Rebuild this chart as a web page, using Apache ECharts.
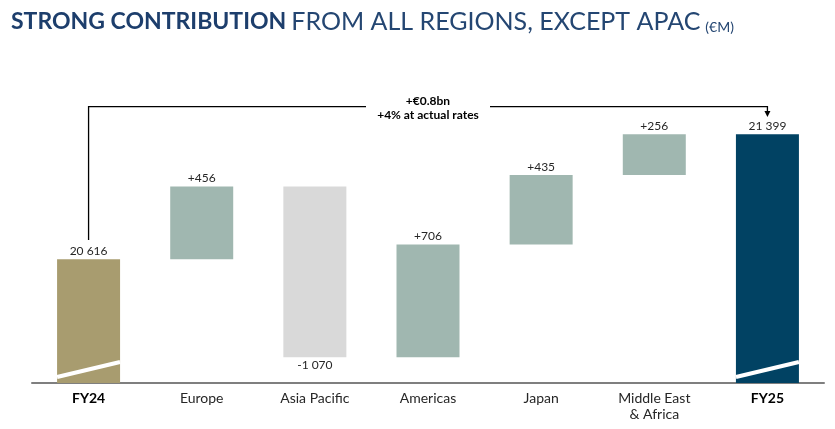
<!DOCTYPE html>
<html>
<head>
<meta charset="utf-8">
<script src="https://cdn.jsdelivr.net/npm/echarts@6/dist/echarts.min.js"></script>
<style>html,body{margin:0;padding:0;background:#fff}#c{width:835px;height:429px}</style>
</head>
<body>
<div id="c"></div>
<script>
const categories = ['FY24', 'Europe', 'Asia Pacific', 'Americas', 'Japan', 'Middle East\n& Africa', 'FY25'];
const startValue = 20616;
const deltas = [456, -1070, 706, 435, 256];
const endValue = 21399;
const valueLabels = ['20 616', '+456', '-1 070', '+706', '+435', '+256', '21 399'];
const bracketText = ['+€0.8bn', '+4% at actual rates'];
const colors = ['#a89c6f', '#a0b7b0', '#d9d9d9', '#a0b7b0', '#a0b7b0', '#a0b7b0', '#014263'];

// build waterfall
const baseVals = [0];
const barVals = [startValue];
let run = startValue;
deltas.forEach(d => {
  const lo = d >= 0 ? run : run + d;
  baseVals.push(lo);
  barVals.push(Math.abs(d));
  run += d;
});
baseVals.push(0);
barVals.push(endValue);

const yMin = 19840, yMax = 21620;
const BW = 63;

const chart = echarts.init(document.getElementById('c'), null, {renderer: 'canvas'});
const FONT = 'Lato, "Noto Sans", sans-serif';

chart.setOption({
  animation: false,
  title: {
    left: 6, top: 4,
    text: '{b|STRONG CONTRIBUTION} {r|FROM ALL REGIONS, EXCEPT APAC} {s|(€M)}',
    textStyle: {
      rich: {
        b: {fontFamily: FONT, fontWeight: 'bold', fontSize: 23, color: '#1d3e6c'},
        r: {fontFamily: FONT, fontWeight: 'normal', fontSize: 25, color: '#244672'},
        s: {fontFamily: FONT, fontWeight: 'normal', fontSize: 14, color: '#244672', verticalAlign: 'bottom'}
      }
    }
  },
  grid: {left: 32, right: 11, top: 99, bottom: 46},
  xAxis: {
    type: 'category',
    data: categories,
    axisLine: {lineStyle: {color: '#7f7f7f', width: 2}},
    axisTick: {show: false},
    axisLabel: {
      margin: 7,
      fontFamily: FONT, fontSize: 14, color: '#262626', lineHeight: 16,
      formatter: v => v.startsWith('FY') ? '{b|' + v + '}' : v,
      rich: {b: {fontFamily: FONT, fontSize: 14, fontWeight: 'bold', color: '#000'}}
    }
  },
  yAxis: {type: 'value', min: yMin, max: yMax, show: false, splitLine: {show: false}},
  series: [
    {
      type: 'bar', stack: 'w', barWidth: BW, silent: true,
      itemStyle: {color: 'transparent'},
      data: baseVals
    },
    {
      type: 'bar', stack: 'w', barWidth: BW,
      data: barVals.map((v, i) => ({
        value: v,
        itemStyle: {color: colors[i]},
        label: {position: deltas[i - 1] < 0 ? 'bottom' : 'top'}
      })),
      label: {
        show: true, distance: 2,
        fontFamily: FONT, fontSize: 12, color: '#262626',
        formatter: p => valueLabels[p.dataIndex]
      }
    },
    {
      // axis break marks on total bars
      type: 'custom', z: 5, silent: true,
      data: [[0], [6]],
      renderItem: (params, api) => {
        const idx = api.value(0);
        const p1 = api.coord([idx, 19878]);
        const p2 = api.coord([idx, 19972]);
        return {
          type: 'line',
          shape: {x1: p1[0] - BW / 2, y1: p1[1], x2: p1[0] + BW / 2, y2: p2[1]},
          style: {stroke: '#ffffff', lineWidth: 4}
        };
      }
    },
    {
      // bracket annotation
      type: 'custom', z: 6, silent: true, clip: false,
      data: [[0, 6]],
      renderItem: (params, api) => {
        const a = api.value(0), b = api.value(1);
        const s = api.coord([a, 20736]);
        const top = api.coord([a, 21572])[1];
        const e = api.coord([b, 21507]);
        const mid = (s[0] + e[0]) / 2;
        const gap = 62;
        return {
          type: 'group',
          children: [
            {type: 'polyline', shape: {points: [[s[0], s[1]], [s[0], top], [mid - gap, top]]},
             style: {stroke: '#000', lineWidth: 1.3, fill: null}},
            {type: 'polyline', shape: {points: [[mid + gap, top], [e[0], top], [e[0], e[1] - 5]]},
             style: {stroke: '#000', lineWidth: 1.3, fill: null}},
            {type: 'polygon', shape: {points: [[e[0] - 3, e[1] - 6], [e[0] + 3, e[1] - 6], [e[0], e[1]]]},
             style: {fill: '#000'}},
            {type: 'text', x: mid, y: top - 5.5,
             style: {text: bracketText[0], align: 'center', verticalAlign: 'middle', font: 'bold 12px ' + FONT, fill: '#000'}},
            {type: 'text', x: mid, y: top + 8,
             style: {text: bracketText[1], align: 'center', verticalAlign: 'middle', font: 'bold 12px ' + FONT, fill: '#000'}}
          ]
        };
      }
    }
  ]
});
</script>
</body>
</html>
